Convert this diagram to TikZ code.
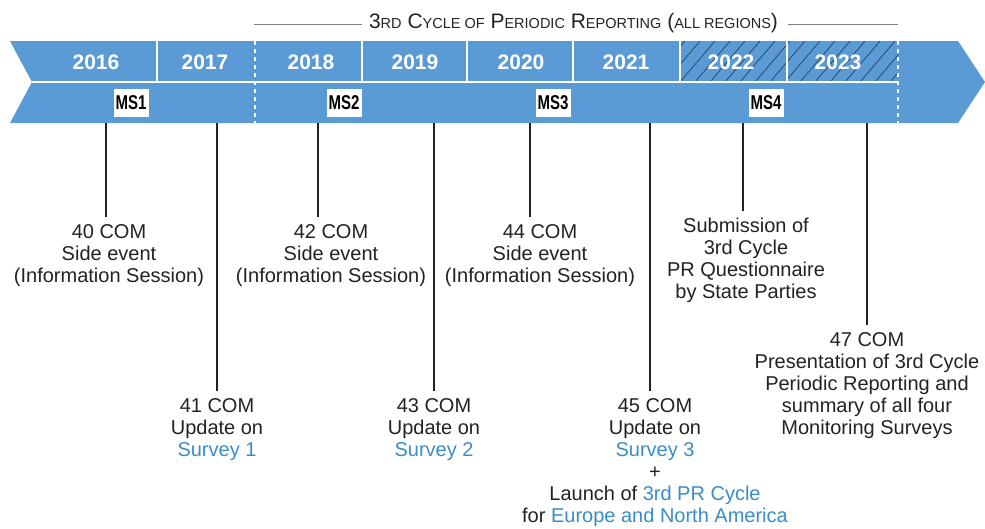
\documentclass[tikz,border=0pt]{standalone}
\usepackage{fontspec}
\setmainfont{Liberation Sans}
\usepackage{graphicx}
\definecolor{bannerblue}{HTML}{5B9BD5}
\definecolor{hatchblue}{HTML}{1F3450}
\definecolor{linkblue}{HTML}{3A8DC6}
\definecolor{inkgray}{HTML}{222222}
\newcommand{\scs}{\fontsize{14.5}{14.5}\selectfont}
\newcommand{\lnk}[1]{{\color{linkblue}#1}}

\begin{document}
\begin{tikzpicture}[x=1pt,y=-1pt,
  year/.style={font=\fontsize{21}{21}\selectfont\bfseries,text=white,inner sep=0pt},
  msbox/.style={fill=white,minimum width=35pt,minimum height=28pt,inner sep=0pt,font=\fontsize{20}{20}\selectfont\bfseries},
  evt/.style={align=center,anchor=north,inner xsep=0pt,inner ysep=7pt,text=inkgray,font=\fontsize{20}{22}\selectfont},
  stem/.style={draw=inkgray,line width=1.4pt},
  rule/.style={draw=gray,line width=0.8pt}]
\useasboundingbox (0,0) rectangle (985,528);

% title of the cycle
\node[anchor=base,inner sep=0pt,text=inkgray,font=\fontsize{21}{21}\selectfont] (title) at (573.5,28.3)
  {3{\scs RD} C{\scs YCLE OF} P{\scs ERIODIC} R{\scs EPORTING} ({\scs ALL REGIONS})};
\draw[rule] (254,24) -- (362,24);
\draw[rule] (788,24) -- (898,24);

% banner
\fill[bannerblue] (10,41) -- (958,41) -- (985,82) -- (958,123) -- (10,123) -- (32,82) -- cycle;
\begin{scope}
\clip (680,41) rectangle (898,82);
\foreach \x in {650,665,...,900}
  \draw[hatchblue,line width=0.6pt] (\x,82) -- ++(35,-41);
\end{scope}
\draw[white,line width=1.5pt] (32,82) -- (898,82);
\foreach \x in {157,362,467,573,680,787}
  \draw[white,line width=1.2pt] (\x,41) -- (\x,82);
\foreach \x in {255,898}
  \draw[white,line width=2pt,dash pattern=on 4pt off 4pt] (\x,41) -- (\x,123);

% years
\foreach \yr/\x in {2016/96,2017/205,2018/311,2019/415,2020/521,2021/626,2022/731,2023/838}
  \node[year] (y\yr) at (\x,62.5) {\yr};

% monitoring surveys
\foreach \n/\x in {1/131,2/344,3/553,4/766}
  \node[msbox] (ms\n) at (\x,103) {\scalebox{0.75}[1]{MS\n}};

% stems on the banner
\foreach \k/\x in {40/106,41/217,42/318,43/434,44/530,45/650,sub/743,47/867}
  \coordinate (s\k) at (\x,123);

% events
\node[evt] (c40) at (109,217) {40 COM\\Side event\\(Information Session)};
\node[evt] (c41) at (217,391) {41 COM\\Update on\\\lnk{Survey 1}};
\node[evt] (c42) at (331,217) {42 COM\\Side event\\(Information Session)};
\node[evt] (c43) at (434,391) {43 COM\\Update on\\\lnk{Survey 2}};
\node[evt] (c44) at (540,217) {44 COM\\Side event\\(Information Session)};
\node[evt] (c45) at (655,391) {45 COM\\Update on\\\lnk{Survey 3}\\+\\Launch of \lnk{3rd PR Cycle}\\for \lnk{Europe and North America}};
\node[evt] (csub) at (746,211) {Submission of\\3rd Cycle\\PR Questionnaire\\by State Parties};
\node[evt] (c47) at (867,325) {47 COM\\Presentation of 3rd Cycle\\Periodic Reporting and\\summary of all four\\Monitoring Surveys};

\foreach \k in {40,41,42,43,44,45,sub,47}
  \draw[stem] (s\k) -- (s\k |- c\k.north);
\end{tikzpicture}
\end{document}
